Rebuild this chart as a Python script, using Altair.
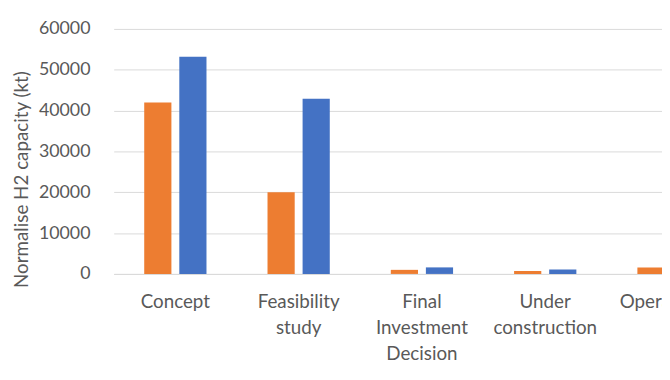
import altair as alt
import pandas as pd

categories = ["Concept", "Feasibility study", "Final Investment Decision",
              "Under construction", "Operational"]
series_names = ["Series 1", "Series 2"]
series1_values = [42000, 20000, 1000, 700, 1600]
series2_values = [53200, 42900, 1600, 1100, 1500]
y_ticks = [0, 10000, 20000, 30000, 40000, 50000, 60000]
colors = ["#ED7D31", "#4472C4"]

rows = []
for c, a, b in zip(categories, series1_values, series2_values):
    rows.append({"category": c, "series": series_names[0], "value": a})
    rows.append({"category": c, "series": series_names[1], "value": b})
df = pd.DataFrame(rows)

FONT = "Lato"
GRAY = "#595959"

chart = alt.Chart(df).mark_bar(clip=True).encode(
    x=alt.X("category:N", sort=categories,
            scale=alt.Scale(range=[0, 624], paddingInner=0.495, paddingOuter=0.2475),
            axis=alt.Axis(title=None, labelAngle=0, ticks=False,
                          domainColor="#D9D9D9", domainWidth=1,
                          labelExpr="split(datum.label, ' ')",
                          labelLineHeight=26.5, labelPadding=19,
                          labelFont=FONT, labelFontSize=19, labelColor=GRAY,
                          labelOverlap=False, labelBound=False, labelFlush=False)),
    xOffset=alt.XOffset("series:N", sort=series_names,
                        scale=alt.Scale(paddingInner=0.225, paddingOuter=0)),
    y=alt.Y("value:Q",
            scale=alt.Scale(domain=[0, 60000], nice=False),
            axis=alt.Axis(title="Normalise H2 capacity (kt)", values=y_ticks,
                          format="d", ticks=False, domain=False,
                          gridColor="#D9D9D9", gridWidth=1,
                          labelPadding=24, labelFont=FONT, labelFontSize=18,
                          labelColor=GRAY, titleFont=FONT, titleFontSize=19,
                          titleColor=GRAY, titleFontWeight="normal",
                          titleX=-93, titleY=152, titleAngle=270,
                          titleBaseline="middle", titleAlign="center")),
    color=alt.Color("series:N", sort=series_names,
                    scale=alt.Scale(domain=series_names, range=colors),
                    legend=None),
).properties(
    width=555, height=248,
    autosize=alt.AutoSizeParams(type="none"),
    padding={"left": 107, "top": 19, "right": 0, "bottom": 90},
).configure_view(stroke=None)

chart.save("out.html", embed_options={"renderer": "svg", "actions": False})
